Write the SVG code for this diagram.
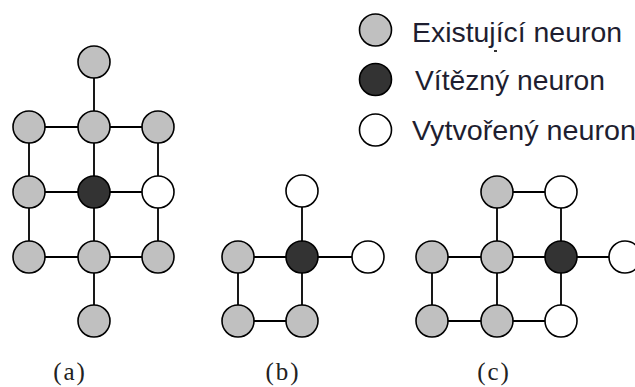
<svg xmlns="http://www.w3.org/2000/svg" width="635" height="387" viewBox="0 0 635 387">
<style>
.n{stroke:#000;stroke-width:1.6}
.g{fill:#c0c0c0}
.d{fill:#333333}
.w{fill:#ffffff}
.e{stroke:#000;stroke-width:1.8;fill:none}
.lg{font-family:"Liberation Sans",Arial,sans-serif;font-size:28px;fill:#1e1e30}
.lb{font-family:"Liberation Serif","Times New Roman",serif;font-size:25px;fill:#222;letter-spacing:2px}
</style>
<rect width="635" height="387" fill="#fff"/>
<g id="connectors" class="e">
<path d="M94 62V321M29 127H158M29 127V257M158 127V257M29 192H158M29 257H158"/>
<path d="M302 191V321M238 257H368M238 257V321M238 321H302"/>
<path d="M497 192H561M497 192V321M561 192V321M432 257H625M432 257V321M432 321H561"/>
</g>
<g id="panel-a">
<g id="a1"><circle class="n g" cx="94" cy="62" r="16"/></g>
<g id="a2"><circle class="n g" cx="29" cy="127" r="16"/></g>
<g id="a3"><circle class="n g" cx="94" cy="127" r="16"/></g>
<g id="a4"><circle class="n g" cx="158" cy="127" r="16"/></g>
<g id="a5"><circle class="n g" cx="29" cy="192" r="16"/></g>
<g id="a6"><circle class="n d" cx="94" cy="192" r="16"/></g>
<g id="a7"><circle class="n w" cx="158" cy="192" r="16"/></g>
<g id="a8"><circle class="n g" cx="29" cy="257" r="16"/></g>
<g id="a9"><circle class="n g" cx="94" cy="257" r="16"/></g>
<g id="a10"><circle class="n g" cx="158" cy="257" r="16"/></g>
<g id="a11"><circle class="n g" cx="94" cy="321" r="16"/></g>
</g>
<g id="panel-b">
<g id="b1"><circle class="n w" cx="302" cy="191" r="16"/></g>
<g id="b2"><circle class="n g" cx="238" cy="257" r="16"/></g>
<g id="b3"><circle class="n d" cx="302" cy="257" r="16"/></g>
<g id="b4"><circle class="n w" cx="368" cy="257" r="16"/></g>
<g id="b5"><circle class="n g" cx="238" cy="321" r="16"/></g>
<g id="b6"><circle class="n g" cx="302" cy="321" r="16"/></g>
</g>
<g id="panel-c">
<g id="c1"><circle class="n g" cx="497" cy="192" r="16"/></g>
<g id="c2"><circle class="n w" cx="561" cy="192" r="16"/></g>
<g id="c3"><circle class="n g" cx="432" cy="257" r="16"/></g>
<g id="c4"><circle class="n g" cx="497" cy="257" r="16"/></g>
<g id="c5"><circle class="n d" cx="561" cy="257" r="16"/></g>
<g id="c6"><circle class="n w" cx="625" cy="257" r="16"/></g>
<g id="c7"><circle class="n g" cx="432" cy="321" r="16"/></g>
<g id="c8"><circle class="n g" cx="497" cy="321" r="16"/></g>
<g id="c9"><circle class="n w" cx="561" cy="321" r="16"/></g>
</g>
<g id="legend">
<g id="leg-existing"><circle class="n g" cx="375.5" cy="30" r="16"/><text class="lg" x="412" y="42" textLength="210" lengthAdjust="spacingAndGlyphs">Existující neuron</text></g>
<rect x="494" y="50" width="3" height="2" fill="#333"/>
<g id="leg-winner"><circle class="n d" cx="375.5" cy="79.5" r="16"/><text class="lg" x="415" y="90" textLength="190" lengthAdjust="spacingAndGlyphs">Vítězný neuron</text></g>
<g id="leg-created"><circle class="n w" cx="375.5" cy="130" r="16"/><text class="lg" x="412" y="140" textLength="224" lengthAdjust="spacingAndGlyphs">Vytvořený neuron</text></g>
</g>
<g id="labels">
<text class="lb" x="70" y="380" text-anchor="middle">(a)</text>
<text class="lb" x="283" y="380" text-anchor="middle">(b)</text>
<text class="lb" x="494" y="380" text-anchor="middle">(c)</text>
</g>
</svg>
